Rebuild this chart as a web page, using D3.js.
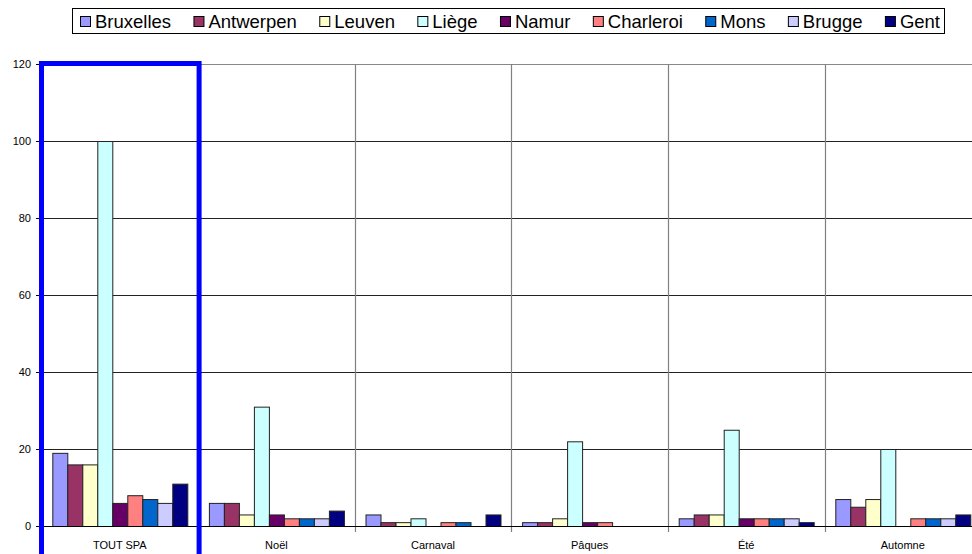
<!DOCTYPE html>
<html><head><meta charset="utf-8">
<script src="https://cdn.jsdelivr.net/npm/d3@7"></script>
<style>html,body{margin:0;padding:0;background:#fff;overflow:hidden}</style>
</head><body>
<svg id="c" width="972" height="554"></svg>
<script>
const categories = ["TOUT SPA", "Noël", "Carnaval", "Pâques", "Été", "Automne"];
const seriesNames = ["Bruxelles", "Antwerpen", "Leuven", "Liège", "Namur", "Charleroi", "Mons", "Brugge", "Gent"];
const seriesColors = ["#9999FF", "#993366", "#FFFFCC", "#CCFFFF", "#660066", "#FF8080", "#0066CC", "#CCCCFF", "#000080"];
const bruxelles = [19, 6, 3, 1, 2, 7];
const antwerpen = [16, 6, 1, 1, 3, 5];
const leuven    = [16, 3, 1, 2, 3, 7];
const liege     = [100, 31, 2, 22, 25, 20];
const namur     = [6, 3, 0, 1, 2, 0];
const charleroi = [8, 2, 1, 1, 2, 2];
const mons      = [7, 2, 1, 0, 2, 2];
const brugge    = [6, 2, 0, 0, 2, 2];
const gent      = [11, 4, 3, 0, 1, 3];
const yTicks = [0, 20, 40, 60, 80, 100, 120];

const seriesValues = [bruxelles, antwerpen, leuven, liege, namur, charleroi, mons, brugge, gent];

const svg = d3.select("#c");
const x0 = 41.5, bandW = 156.6;
const plotTop = 64, plotBottom = 526;
const x = d3.scaleBand().domain(categories).range([x0, x0 + bandW * categories.length]).padding(0);
const barW = 15;
const pOuter = (bandW / barW - seriesNames.length) / 2;
const xi = d3.scaleBand().domain(seriesNames).range([0, bandW]).paddingInner(0).paddingOuter(pOuter);
const y = d3.scaleLinear().domain([0, 120]).range([plotBottom, plotTop]);

// horizontal gridlines
svg.append("g").selectAll("line").data(yTicks.filter(d => d > 0)).join("line")
  .attr("x1", x0).attr("x2", 972)
  .attr("y1", d => Math.round(y(d)) + 0.5).attr("y2", d => Math.round(y(d)) + 0.5)
  .attr("stroke", d => d === 120 ? "#888" : "#222").attr("stroke-width", 1);

// vertical separators
const bounds = categories.map((c, i) => x(c)).concat([x0 + bandW * categories.length]);
svg.append("g").selectAll("line").data(bounds).join("line")
  .attr("x1", d => Math.round(d) + 0.5).attr("x2", d => Math.round(d) + 0.5)
  .attr("y1", plotTop).attr("y2", plotBottom + 6)
  .attr("stroke", "#808080").attr("stroke-width", 1.2);

// bars
const g = svg.append("g");
categories.forEach((c, ci) => {
  seriesNames.forEach((s, si) => {
    const v = seriesValues[si][ci];
    if (v <= 0) return;
    g.append("rect")
      .attr("x", x(c) + xi(s) + 0.5)
      .attr("y", y(v) + 0.5)
      .attr("width", xi.bandwidth())
      .attr("height", y(0) - y(v))
      .attr("fill", seriesColors[si])
      .attr("stroke", "#222").attr("stroke-width", 1);
  });
});

// baseline
svg.append("line").attr("x1", x0).attr("x2", 972)
  .attr("y1", plotBottom + 0.5).attr("y2", plotBottom + 0.5)
  .attr("stroke", "#000").attr("stroke-width", 1.2);

// y axis labels & ticks
const ya = svg.append("g");
ya.selectAll("text").data(yTicks).join("text")
  .attr("x", 31).attr("y", d => y(d) + 4)
  .attr("text-anchor", "end")
  .attr("font-family", "Liberation Sans, Arial, sans-serif").attr("font-size", 11)
  .text(d => d);
ya.selectAll("line").data(yTicks).join("line")
  .attr("x1", 36).attr("x2", x0)
  .attr("y1", d => Math.round(y(d)) + 0.5).attr("y2", d => Math.round(y(d)) + 0.5)
  .attr("stroke", "#000");

// category labels
svg.append("g").selectAll("text").data(categories).join("text")
  .attr("x", d => x(d) + bandW / 2).attr("y", 549)
  .attr("text-anchor", "middle")
  .attr("font-family", "Liberation Sans, Arial, sans-serif").attr("font-size", 11)
  .text(d => d);

// blue highlight rectangle
svg.append("rect")
  .attr("x", x(categories[0])).attr("y", plotTop - 0.5)
  .attr("width", bandW + 1).attr("height", 600)
  .attr("fill", "none").attr("stroke", "#0000FF").attr("stroke-width", 5);

// legend
const lg = svg.append("g");
lg.append("rect").attr("x", 72.5).attr("y", 8.5).attr("width", 872).attr("height", 25)
  .attr("fill", "#fff").attr("stroke", "#000").attr("stroke-width", 1);
const items = seriesNames.map((s, i) => {
  const it = lg.append("g");
  it.append("rect").attr("x", 0.5).attr("y", -11.5).attr("width", 10).attr("height", 10)
    .attr("fill", seriesColors[i]).attr("stroke", "#000").attr("stroke-width", 1);
  const t = it.append("text").attr("x", 15).attr("y", 0)
    .attr("font-family", "Liberation Sans, Arial, sans-serif").attr("font-size", 18.5)
    .text(s);
  return {it, w: 15 + t.node().getComputedTextLength()};
});
const total = d3.sum(items, d => d.w);
const lx0 = 80, lx1 = 940;
const gap = (lx1 - lx0 - total) / (items.length - 1);
let cx = lx0;
items.forEach(d => { d.it.attr("transform", `translate(${cx},28)`); cx += d.w + gap; });
</script>
</body></html>
